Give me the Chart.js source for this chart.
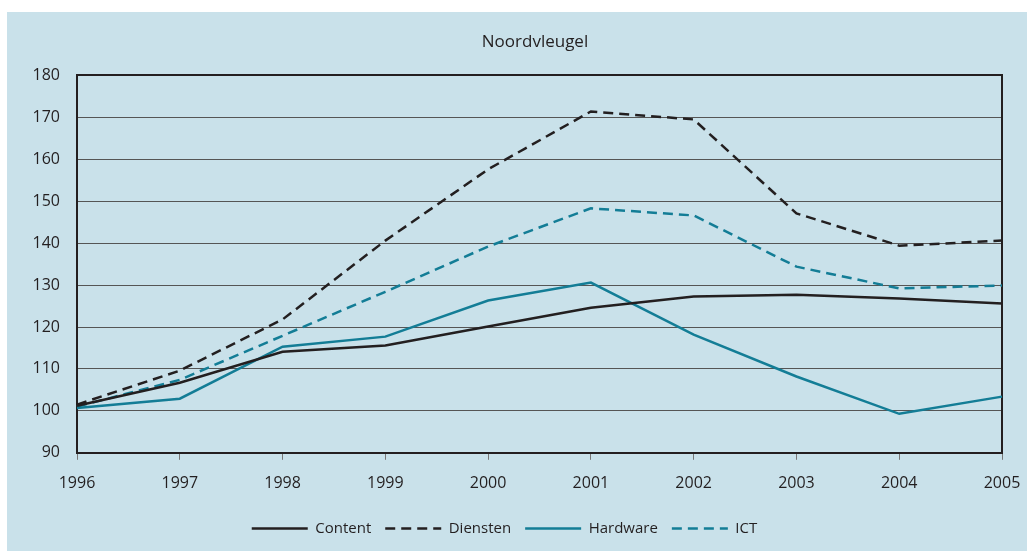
<!DOCTYPE html>
<html>
<head>
<meta charset="utf-8">
<script src="https://cdn.jsdelivr.net/npm/chart.js@4"></script>
<style>
  body { margin: 0; background: #fff; }
  #panel { position: absolute; left: 7px; top: 12px; width: 1020px; height: 539px; background: #c9e1ea; }
</style>
</head>
<body>
<div id="panel"><canvas id="chart" width="1020" height="539"></canvas></div>
<script>
const years = ['1996', '1997', '1998', '1999', '2000', '2001', '2002', '2003', '2004', '2005'];
const content = [101.2, 106.7, 114.1, 115.6, 120.1, 124.6, 127.3, 127.7, 126.8, 125.6];
const diensten = [101.5, 109.6, 121.8, 140.6, 157.6, 171.4, 169.5, 147.1, 139.4, 140.6];
const hardware = [100.7, 102.9, 115.3, 117.7, 126.3, 130.6, 118.2, 108.2, 99.3, 103.4];
const ict = [101.0, 107.4, 117.9, 128.4, 139.2, 148.3, 146.6, 134.4, 129.2, 129.9];

const dark = '#231f20';
const teal = '#137d96';
const fontFamily = '"Open Sans", "Noto Sans", sans-serif';

function line(label, data, color, dashed) {
  return {
    label: label,
    data: data,
    borderColor: color,
    backgroundColor: color,
    borderWidth: 2.5,
    borderDash: dashed ? [10, 6] : [],
    pointRadius: 0,
    tension: 0,
    fill: false
  };
}

// centre the title over the plot area instead of the whole canvas
const titleOverPlot = {
  id: 'titleOverPlot',
  afterLayout(chart) {
    if (chart.titleBlock) {
      chart.titleBlock.left = chart.chartArea.left - 9;
      chart.titleBlock.right = chart.chartArea.right;
    }
  }
};

new Chart(document.getElementById('chart'), {
  type: 'line',
  data: {
    labels: years,
    datasets: [
      line('Content', content, dark, false),
      line('Diensten', diensten, dark, true),
      line('Hardware', hardware, teal, false),
      line('ICT', ict, teal, true)
    ]
  },
  options: {
    responsive: false,
    animation: false,
    layout: { padding: { left: 0, right: 25, top: 10, bottom: 5 } },
    plugins: {
      title: {
        display: true,
        text: 'Noordvleugel',
        color: dark,
        font: { family: fontFamily, size: 17, weight: 'normal' },
        padding: { top: 10, bottom: 23 }
      },
      legend: {
        position: 'bottom',
        labels: {
          color: dark,
          font: { family: fontFamily, size: 15 },
          usePointStyle: true,
          pointStyle: 'line',
          pointStyleWidth: 56,
          padding: 14,
          generateLabels: chart => {
            const items = Chart.defaults.plugins.legend.labels.generateLabels(chart);
            items.forEach(item => {
              const ds = chart.data.datasets[item.datasetIndex];
              item.lineDash = ds.borderDash;
              item.lineWidth = ds.borderWidth;
              item.strokeStyle = ds.borderColor;
            });
            return items;
          }
        }
      },
      tooltip: { enabled: false }
    },
    scales: {
      x: {
        offset: false,
        grid: {
          drawOnChartArea: false,
          drawTicks: true,
          tickLength: 7,
          color: '#777'
        },
        border: { color: dark, width: 2 },
        ticks: {
          color: dark,
          font: { family: fontFamily, size: 16 },
          padding: 14,
          maxRotation: 0
        },
        afterFit: scale => { scale.paddingLeft = 0; scale.paddingRight = 0; }
      },
      y: {
        min: 90,
        max: 180,
        grid: {
          drawTicks: false,
          color: ctx => ctx.tick && ctx.tick.value === 180 ? dark : '#555',
          lineWidth: ctx => ctx.tick && ctx.tick.value === 180 ? 2 : 1
        },
        border: { color: dark, width: 2 },
        ticks: {
          stepSize: 10,
          color: dark,
          font: { family: fontFamily, size: 16 },
          padding: 17
        },
        afterFit: scale => { scale.width = 70; }
      },
      yRight: {
        position: 'right',
        min: 90,
        max: 180,
        grid: { drawOnChartArea: false, drawTicks: false },
        border: { color: dark, width: 2 },
        ticks: { display: false },
        afterFit: scale => { scale.width = 0; }
      }
    }
  },
  plugins: [titleOverPlot]
});
</script>
</body>
</html>
